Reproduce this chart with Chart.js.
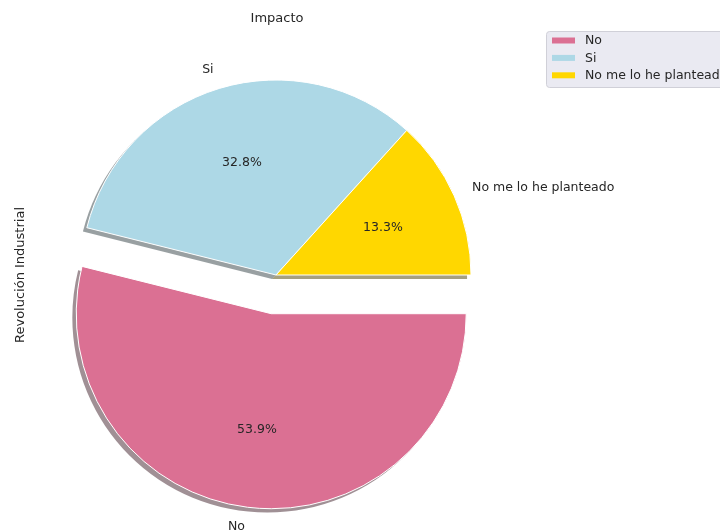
<!DOCTYPE html>
<html lang="es">
<head>
  <meta charset="UTF-8" />
  <title>Impacto</title>
  <style>
    * { margin: 0; padding: 0; box-sizing: border-box; }
    body { background: #ffffff; width: 720px; height: 531px; overflow: hidden; }
    canvas { display: block; }
  </style>
</head>
<body>
  <canvas id="pieChart" width="720" height="531"></canvas>

  <script src="https://cdn.jsdelivr.net/npm/chart.js"></script>
  <script>
    // datos
    const labels = ['No', 'Si', 'No me lo he planteado'];
    const values = [53.9, 32.8, 13.3];
    const colors = ['#db7093', '#add8e6', '#ffd700'];
    const explode = [0.2, 0, 0];
    const chartTitle = 'Impacto';
    const yLabel = 'Revolución Industrial';

    const FONT = '"DejaVu Sans", sans-serif';
    const TEXT = '#262626';

    // separa la porcion "No" del centro (como explode de matplotlib)
    const explodePlugin = {
      id: 'explode',
      afterDatasetsUpdate(chart) {
        const arcs = chart.getDatasetMeta(0).data;
        arcs.forEach((arc, i) => {
          if (!explode[i]) return;
          const mid = (arc.startAngle + arc.endAngle) / 2;
          const d = explode[i] * arc.outerRadius;
          arc.x += Math.cos(mid) * d;
          arc.y += Math.sin(mid) * d;
        });
      }
    };

    // sombra gris debajo de cada porcion
    const shadowPlugin = {
      id: 'pieShadow',
      beforeDatasetsDraw(chart) {
        const ctx = chart.ctx;
        const arcs = chart.getDatasetMeta(0).data;
        ctx.save();
        arcs.forEach((arc, i) => {
          const r = arc.outerRadius;
          const ox = -0.02 * r, oy = 0.02 * r;
          const c = colors[i];
          const rr = Math.round(parseInt(c.slice(1, 3), 16) * 0.3);
          const gg = Math.round(parseInt(c.slice(3, 5), 16) * 0.3);
          const bb = Math.round(parseInt(c.slice(5, 7), 16) * 0.3);
          ctx.fillStyle = `rgba(${rr},${gg},${bb},0.5)`;
          ctx.beginPath();
          ctx.moveTo(arc.x + ox, arc.y + oy);
          ctx.arc(arc.x + ox, arc.y + oy, r, arc.startAngle, arc.endAngle);
          ctx.closePath();
          ctx.fill();
        });
        ctx.restore();
      }
    };

    // porcentajes, etiquetas, titulo, eje y leyenda
    const textPlugin = {
      id: 'pieText',
      afterDraw(chart) {
        const ctx = chart.ctx;
        const arcs = chart.getDatasetMeta(0).data;
        const total = values.reduce((a, b) => a + b, 0);
        ctx.save();
        ctx.fillStyle = TEXT;
        ctx.font = '12.5px ' + FONT;
        ctx.textBaseline = 'middle';

        arcs.forEach((arc, i) => {
          const mid = (arc.startAngle + arc.endAngle) / 2;
          const r = arc.outerRadius;
          const cx = Math.cos(mid), cy = Math.sin(mid);
          ctx.textAlign = 'center';
          ctx.fillText((values[i] / total * 100).toFixed(1) + '%', arc.x + cx * r * 0.6, arc.y + cy * r * 0.6);
          ctx.textAlign = cx < 0 ? 'right' : 'left';
          ctx.fillText(labels[i], arc.x + cx * r * 1.1, arc.y + cy * r * 1.1);
        });

        // titulo
        ctx.font = '13px ' + FONT;
        ctx.textAlign = 'center';
        ctx.fillText(chartTitle, 277, 19);

        // etiqueta vertical
        ctx.save();
        ctx.translate(21, 275);
        ctx.rotate(-Math.PI / 2);
        ctx.fillText(yLabel, 0, 0);
        ctx.restore();

        // leyenda
        const lx = 546, ly = 31, lw = 190, lh = 56;
        ctx.beginPath();
        ctx.roundRect(lx + 0.5, ly + 0.5, lw, lh, 3);
        ctx.fillStyle = '#eaeaf2';
        ctx.fill();
        ctx.strokeStyle = '#d0d0d8';
        ctx.lineWidth = 1;
        ctx.stroke();
        ctx.font = '12.5px ' + FONT;
        ctx.textAlign = 'left';
        labels.forEach((lab, i) => {
          const y = 40.5 + i * 17.4;
          ctx.fillStyle = colors[i];
          ctx.fillRect(552, y - 3, 23, 6);
          ctx.fillStyle = TEXT;
          ctx.fillText(lab, 585, y + 0.5);
        });
        ctx.restore();
      }
    };

    const ctx = document.getElementById('pieChart').getContext('2d');
    new Chart(ctx, {
      type: 'pie',
      data: {
        labels: labels,
        datasets: [{
          data: values,
          backgroundColor: colors,
          borderColor: '#ffffff',
          borderWidth: 1
        }]
      },
      options: {
        responsive: false,
        animation: false,
        rotation: 90,
        radius: 195,
        layout: { padding: { left: 81, right: 249, top: 80, bottom: 61 } },
        plugins: {
          legend: { display: false },
          tooltip: { enabled: false },
          title: { display: false }
        }
      },
      plugins: [explodePlugin, shadowPlugin, textPlugin]
    });
  </script>
</body>
</html>
